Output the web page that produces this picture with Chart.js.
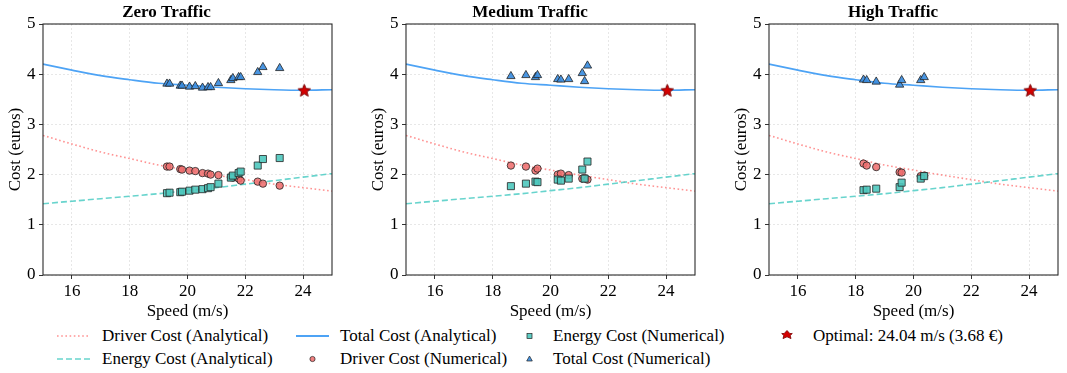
<!DOCTYPE html>
<html><head><meta charset="utf-8">
<script src="https://cdn.jsdelivr.net/npm/chart.js@4.4.1/dist/chart.umd.min.js"></script>
<style>
html,body{margin:0;padding:0;background:#fff;}
body{width:1067px;height:373px;position:relative;overflow:hidden;font-family:'Liberation Serif','Times New Roman',serif;}
.panel{position:absolute;top:0;}
.lg{position:absolute;font-size:17px;line-height:20px;white-space:nowrap;color:#000;font-family:'Liberation Serif','Times New Roman',serif;}
.sw{position:absolute;}
</style></head><body>
<div class="panel" style="left:0px"><canvas id="c0" width="340" height="322"></canvas></div>
<div class="panel" style="left:363px"><canvas id="c1" width="340" height="322"></canvas></div>
<div class="panel" style="left:726px"><canvas id="c2" width="340" height="322"></canvas></div>
<div id="legend"></div>
<script>
// ---- data ----
const panelTitles = ['Zero Traffic', 'Medium Traffic', 'High Traffic'];
const xTicks = [16, 18, 20, 22, 24];
const yTicks = [0, 1, 2, 3, 4, 5];

const analyticSpeed  = [15, 16, 17, 18, 19, 20, 21, 22, 23, 24, 25];
const driverAnalytic = [2.78, 2.61, 2.45, 2.32, 2.19, 2.09, 1.99, 1.90, 1.81, 1.74, 1.67];
const energyAnalytic = [1.42, 1.47, 1.52, 1.57, 1.62, 1.68, 1.74, 1.81, 1.88, 1.95, 2.02];
const totalAnalytic  = [4.20, 4.08, 3.97, 3.89, 3.82, 3.78, 3.74, 3.71, 3.69, 3.68, 3.69];

const zeroSpeed  = [19.29, 19.38, 19.75, 19.81, 20.07, 20.27, 20.52, 20.71, 20.80, 21.07, 21.50, 21.57, 21.77, 21.84, 22.43, 22.61, 23.19];
const zeroDriver = [2.16, 2.16, 2.11, 2.10, 2.08, 2.07, 2.03, 2.02, 2.00, 1.99, 1.95, 1.94, 1.92, 1.88, 1.86, 1.82, 1.78];
const zeroEnergy = [1.63, 1.64, 1.65, 1.66, 1.68, 1.70, 1.71, 1.73, 1.75, 1.82, 1.94, 1.98, 2.03, 2.06, 2.18, 2.31, 2.33];
const zeroTotal  = [3.81, 3.81, 3.77, 3.77, 3.75, 3.76, 3.73, 3.74, 3.74, 3.82, 3.88, 3.92, 3.94, 3.94, 4.04, 4.14, 4.12];

const medSpeed  = [18.63, 19.15, 19.48, 19.55, 20.25, 20.36, 20.63, 21.10, 21.18, 21.28];
const medDriver = [2.18, 2.16, 2.08, 2.12, 2.00, 2.02, 1.99, 1.92, 1.93, 1.90];
const medEnergy = [1.77, 1.82, 1.86, 1.85, 1.90, 1.88, 1.92, 2.10, 1.92, 2.26];
const medTotal  = [3.96, 3.98, 3.94, 3.98, 3.90, 3.89, 3.90, 4.02, 3.86, 4.17];

const highSpeed  = [18.27, 18.38, 18.71, 19.52, 19.59, 20.25, 20.37];
const highDriver = [2.22, 2.18, 2.15, 2.05, 2.04, 1.97, 1.98];
const highEnergy = [1.69, 1.70, 1.72, 1.75, 1.84, 1.92, 1.97];
const highTotal  = [3.89, 3.88, 3.85, 3.79, 3.88, 3.88, 3.94];

const optimalSpeed = [24.04];
const optimalCost  = [3.68];

const legendLabels = ['Driver Cost (Analytical)', 'Total Cost (Analytical)', 'Energy Cost (Numerical)', 'Optimal: 24.04 m/s (3.68 €)',
                      'Energy Cost (Analytical)', 'Driver Cost (Numerical)', 'Total Cost (Numerical)'];

// ---- styling ----
const FONT = "'Liberation Serif','Times New Roman',serif";
const C = {
  driverLine: 'rgba(255,110,110,0.75)',
  energyLine: 'rgba(78,205,196,0.85)',
  totalLine: '#4da3f5',
  driverPt: 'rgba(238,110,110,0.88)',
  energyPt: 'rgba(78,200,190,0.9)',
  totalPt: 'rgba(58,140,222,0.92)',
  edge: '#222'
};

function starCanvas(size, fill, stroke) {
  const cv = document.createElement('canvas');
  cv.width = size; cv.height = size;
  const g = cv.getContext('2d');
  const cx = size / 2, cy = size / 2 + size * 0.04, R = size / 2 - 1, r = R * 0.45;
  g.beginPath();
  for (let i = 0; i < 10; i++) {
    const a = -Math.PI / 2 + i * Math.PI / 5;
    const rr = i % 2 ? r : R;
    g.lineTo(cx + rr * Math.cos(a), cy + rr * Math.sin(a));
  }
  g.closePath();
  g.fillStyle = fill; g.fill();
  g.lineWidth = 1; g.strokeStyle = stroke; g.stroke();
  return cv;
}
const starImg = starCanvas(15, '#d40000', '#7a0000');

const boxPlugin = {
  id: 'box',
  afterDraw(chart) {
    const a = chart.chartArea, ctx = chart.ctx;
    ctx.save();
    ctx.strokeStyle = '#2b2b2b';
    ctx.lineWidth = 1.1;
    ctx.strokeRect(a.left, a.top, a.right - a.left, a.bottom - a.top);
    ctx.restore();
  }
};

function pts(xs, ys) { return xs.map((x, i) => ({ x: x, y: ys[i] })); }

function makePanel(id, title, sp, dr, en, tot, padRight) {
  const datasets = [
    { label: 'Driver Cost (Analytical)', data: pts(analyticSpeed, driverAnalytic), showLine: true,
      borderColor: C.driverLine, borderWidth: 1.6, borderDash: [1.6, 2.6], pointRadius: 0,
      cubicInterpolationMode: 'monotone', order: 6 },
    { label: 'Energy Cost (Analytical)', data: pts(analyticSpeed, energyAnalytic), showLine: true,
      borderColor: C.energyLine, borderWidth: 1.6, borderDash: [6, 3], pointRadius: 0,
      cubicInterpolationMode: 'monotone', order: 5 },
    { label: 'Total Cost (Analytical)', data: pts(analyticSpeed, totalAnalytic), showLine: true,
      borderColor: C.totalLine, borderWidth: 1.7, pointRadius: 0,
      cubicInterpolationMode: 'monotone', order: 4 },
    { label: 'Driver Cost (Numerical)', data: pts(sp, dr), pointStyle: 'circle', pointRadius: 3.7,
      backgroundColor: C.driverPt, borderColor: C.edge, borderWidth: 0.8, order: 3 },
    { label: 'Energy Cost (Numerical)', data: pts(sp, en), pointStyle: 'rect', pointRadius: 5,
      backgroundColor: C.energyPt, borderColor: C.edge, borderWidth: 0.8, order: 2 },
    { label: 'Total Cost (Numerical)', data: pts(sp, tot), pointStyle: 'triangle', pointRadius: 4.8,
      backgroundColor: C.totalPt, borderColor: C.edge, borderWidth: 0.8, order: 1 },
    { label: 'Optimal', data: pts(optimalSpeed, optimalCost), pointStyle: starImg, pointRadius: 7, order: 0 }
  ];
  const tickFont = { family: FONT, size: 17 };
  new Chart(document.getElementById(id), {
    type: 'scatter',
    data: { datasets: datasets },
    plugins: [boxPlugin],
    options: {
      responsive: false, animation: false, devicePixelRatio: 1,
      font: { family: FONT },
      layout: { padding: { left: 0, right: padRight, top: 0, bottom: 0 } },
      plugins: {
        legend: { display: false }, tooltip: { enabled: false },
        title: { display: true, text: title, color: '#000',
          font: { family: FONT, size: 17, weight: 'bold' }, padding: { top: 2.5, bottom: 1.1 } }
      },
      scales: {
        x: {
          type: 'linear', min: 15, max: 25,
          afterBuildTicks: s => { s.ticks = xTicks.map(v => ({ value: v })); },
          afterFit: s => { s.height = 47; },
          ticks: { font: tickFont, color: '#000', padding: 2, maxRotation: 0, autoSkip: false },
          grid: { color: 'rgba(0,0,0,0.12)', lineWidth: 0.8, tickColor: '#333', tickLength: 4, tickWidth: 1, tickBorderDash: [] },
          border: { display: false, dash: [2, 2] },
          title: { display: true, text: 'Speed (m/s)', color: '#000', font: tickFont, padding: { top: 0, bottom: 0 } }
        },
        y: {
          type: 'linear', min: 0, max: 5,
          afterBuildTicks: s => { s.ticks = yTicks.map(v => ({ value: v })); },
          afterFit: s => { s.width = 43; },
          ticks: { font: tickFont, color: '#000', padding: 3.5 },
          grid: { color: 'rgba(0,0,0,0.12)', lineWidth: 0.8, tickColor: '#333', tickLength: 4, tickWidth: 1, tickBorderDash: [] },
          border: { display: false, dash: [2, 2] },
          title: { display: true, text: 'Cost (euros)', color: '#000', font: tickFont, padding: { top: 5, bottom: 0 } }
        }
      }
    }
  });
}

makePanel('c0', panelTitles[0], zeroSpeed, zeroDriver, zeroEnergy, zeroTotal, 7);
makePanel('c1', panelTitles[1], medSpeed, medDriver, medEnergy, medTotal, 6);
makePanel('c2', panelTitles[2], highSpeed, highDriver, highEnergy, highTotal, 6);

// ---- legend (HTML) ----
const rowTop = [326, 349];
const colText = [102, 340, 553, 813];
const colSw = [56, 295, 512, 769];
const swatches = [
  '<line x1="1" y1="10" x2="34" y2="10" stroke="' + C.driverLine + '" stroke-width="1.6" stroke-dasharray="1.6 2.6"/>',
  '<line x1="1" y1="10" x2="34" y2="10" stroke="' + C.totalLine + '" stroke-width="1.8"/>',
  '<rect x="15" y="7.5" width="5" height="5" fill="' + C.energyPt + '" stroke="' + C.edge + '" stroke-width="0.7"/>',
  '<polygon points="18,4.5 20.8,7.5 23.3,7.5 21.2,9.6 22,12.6 18,10.8 14,12.6 14.8,9.6 12.7,7.5 15.2,7.5" fill="#d40000" stroke="#7a0000" stroke-width="0.8"/>',
  '<line x1="1" y1="10" x2="34" y2="10" stroke="' + C.energyLine + '" stroke-width="1.6" stroke-dasharray="6 3"/>',
  '<circle cx="17.5" cy="10" r="2.6" fill="' + C.driverPt + '" stroke="' + C.edge + '" stroke-width="0.7"/>',
  '<polygon points="17.5,7 20.3,12 14.7,12" fill="' + C.totalPt + '" stroke="' + C.edge + '" stroke-width="0.7"/>'
];
const lg = document.getElementById('legend');
let html = '';
legendLabels.forEach((t, i) => {
  const row = i < 4 ? 0 : 1, col = i < 4 ? i : i - 4;
  html += '<svg class="sw" width="36" height="20" style="left:' + colSw[col] + 'px;top:' + rowTop[row] + 'px">' + swatches[i] + '</svg>';
  html += '<div class="lg" style="left:' + colText[col] + 'px;top:' + rowTop[row] + 'px">' + t + '</div>';
});
lg.innerHTML = html;
</script>
</body></html>
